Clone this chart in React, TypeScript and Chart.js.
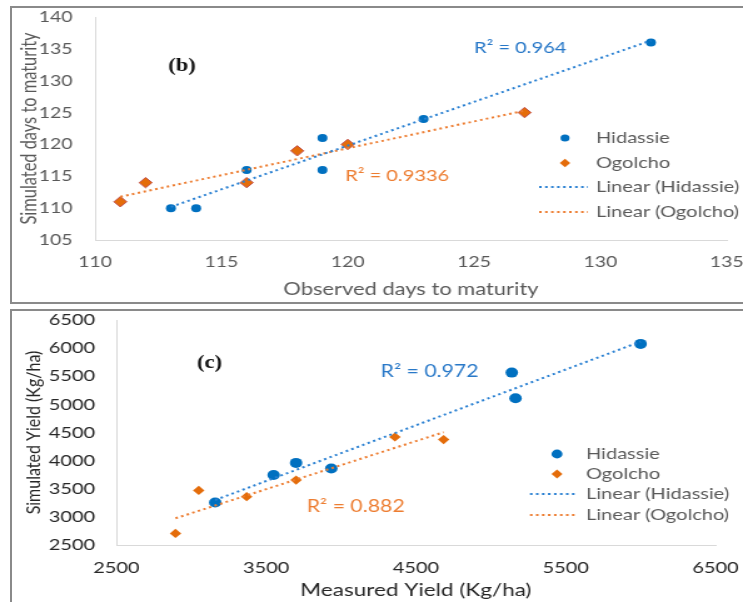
import React, { useEffect, useRef } from 'react';
import { Chart, registerables } from 'chart.js';

Chart.register(...registerables);

// ---------------- shared ----------------
const seriesNames = ['Hidassie', 'Ogolcho', 'Linear (Hidassie)', 'Linear (Ogolcho)'];

// ---------------- panel (b): days to maturity ----------------
const daysTicksX = [110, 115, 120, 125, 130, 135];
const daysTicksY = [105, 110, 115, 120, 125, 130, 135, 140];
const daysHidassieObserved = [113, 114, 116, 119, 119, 123, 132];
const daysHidassieSimulated = [110, 110, 116, 121, 116, 124, 136];
const daysOgolchoObserved = [111, 112, 116, 118, 120, 127];
const daysOgolchoSimulated = [111, 114, 114, 119, 120, 125];
const daysTrendHidassieX = [113, 132];
const daysTrendHidassieY = [110.2, 136.3];
const daysTrendOgolchoX = [111, 127];
const daysTrendOgolchoY = [111.8, 125.3];
const daysR2 = ['R² = 0.964', 'R² = 0.9336'];
const daysTitles = ['Observed days to maturity', 'Simulated days to maturity'];

// ---------------- panel (c): yield ----------------
const yieldTicksX = [2500, 3500, 4500, 5500, 6500];
const yieldTicksY = [2500, 3000, 3500, 4000, 4500, 5000, 5500, 6000, 6500];
const yieldHidassieMeasured = [3160, 3550, 3700, 3935, 5140, 5165, 6000];
const yieldHidassieSimulated = [3255, 3745, 3960, 3860, 5565, 5110, 6075];
const yieldOgolchoMeasured = [2895, 3050, 3370, 3700, 4360, 4685];
const yieldOgolchoSimulated = [2705, 3470, 3360, 3655, 4420, 4375];
const yieldTrendHidassieX = [3160, 6000];
const yieldTrendHidassieY = [3300, 6115];
const yieldTrendOgolchoX = [2895, 4685];
const yieldTrendOgolchoY = [2975, 4505];
const yieldR2 = ['R² = 0.972', 'R² = 0.882'];
const yieldTitles = ['Measured Yield (Kg/ha)', 'Simulated Yield (Kg/ha)'];

const panelLetters = ['(b)', '(c)'];

// ---------------- styles ----------------
const CANVAS_W = 594; // drawn narrower, then stretched to 743px like the reference
const PAGE_W = 743;
const BLUE = '#0070C0';
const ORANGE = '#E46C0A';
const TREND_BLUE = '#2A80D2';
const TREND_ORANGE = '#ED7D31';
const R2_BLUE = '#2878C8';
const R2_ORANGE = '#ED7D31';
const FONT = 'Lato, "Open Sans", sans-serif';
const DASH = [2, 2.8];

type Panel = {
  top: number;
  height: number;
  xTicks: number[];
  yTicks: number[];
  hx: number[]; hy: number[];
  ox: number[]; oy: number[];
  thx: number[]; thy: number[];
  tox: number[]; toy: number[];
  titles: string[];
  r2: string[];
  letter: string;
  letterAt: number[];
  r2At: number[][];
  padRight: number; padTop: number;
  yAxisW: number; xAxisH: number;
  yTickPad: number; xTickPad: number;
  yTitlePad: number; xTitlePad: number;
  xTitleSize: number; yTitleSize: number;
  tickSize: number; tickColor: string;
  titleColor: string;
  r2Size: number;
  hRadius: number; oRadius: number; oBorder: string; oBorderW: number;
  legend: { markerX: number; textX: number; lineX0: number; lineX1: number; rows: number[]; circleR: number; diamondR: number };
};

const panelB: Panel = {
  top: 0, height: 305,
  xTicks: daysTicksX, yTicks: daysTicksY,
  hx: daysHidassieObserved, hy: daysHidassieSimulated,
  ox: daysOgolchoObserved, oy: daysOgolchoSimulated,
  thx: daysTrendHidassieX, thy: daysTrendHidassieY,
  tox: daysTrendOgolchoX, toy: daysTrendOgolchoY,
  titles: daysTitles, r2: daysR2, letter: panelLetters[0],
  letterAt: [112.9, 132.2],
  r2At: [[125.0, 135.1], [119.9, 115.0]],
  padRight: 13, padTop: 17, yAxisW: 76, xAxisH: 65,
  yTickPad: 18, xTickPad: 13, yTitlePad: 14, xTitlePad: 5,
  xTitleSize: 17.5, yTitleSize: 16.4,
  tickSize: 15.5, tickColor: '#595959', titleColor: '#595959', r2Size: 16,
  hRadius: 4, oRadius: 5.2, oBorder: '#C0504D', oBorderW: 1,
  legend: { markerX: 451.7, textX: 476.5, lineX0: 431, lineX1: 470, rows: [138, 163, 187, 212], circleR: 3.6, diamondR: 4.2 },
};

const panelC: Panel = {
  top: 305, height: 297,
  xTicks: yieldTicksX, yTicks: yieldTicksY,
  hx: yieldHidassieMeasured, hy: yieldHidassieSimulated,
  ox: yieldOgolchoMeasured, oy: yieldOgolchoSimulated,
  thx: yieldTrendHidassieX, thy: yieldTrendHidassieY,
  tox: yieldTrendOgolchoX, toy: yieldTrendOgolchoY,
  titles: yieldTitles, r2: yieldR2, letter: panelLetters[1],
  letterAt: [3039, 5736],
  r2At: [[4264, 5593], [3771, 3176]],
  padRight: 22, padTop: 15, yAxisW: 93, xAxisH: 57,
  yTickPad: 17, xTickPad: 13, yTitlePad: 17, xTitlePad: 1,
  xTitleSize: 18, yTitleSize: 16,
  tickSize: 16, tickColor: '#262626', titleColor: '#262626', r2Size: 17,
  hRadius: 5, oRadius: 4.6, oBorder: ORANGE, oBorderW: 0,
  legend: { markerX: 445.3, textX: 468.5, lineX0: 423.7, lineX1: 462, rows: [149, 169, 189, 210], circleR: 4.4, diamondR: 4.4 },
};

function makeOverlay(p: Panel) {
  return {
    id: 'overlay',
    afterDatasetsDraw(chart: any) {
      const { ctx } = chart;
      const xs = chart.scales.x;
      const ys = chart.scales.y;
      ctx.save();
      ctx.textAlign = 'left';
      ctx.textBaseline = 'middle';
      // panel letter
      ctx.font = `bold 18px "Liberation Serif", "Times New Roman", serif`;
      ctx.fillStyle = '#111111';
      ctx.fillText(p.letter, xs.getPixelForValue(p.letterAt[0]), ys.getPixelForValue(p.letterAt[1]));
      // R² notes
      ctx.font = `${p.r2Size}px ${FONT}`;
      ctx.fillStyle = R2_BLUE;
      ctx.fillText(p.r2[0], xs.getPixelForValue(p.r2At[0][0]), ys.getPixelForValue(p.r2At[0][1]));
      ctx.fillStyle = R2_ORANGE;
      ctx.fillText(p.r2[1], xs.getPixelForValue(p.r2At[1][0]), ys.getPixelForValue(p.r2At[1][1]));
      // legend
      const L = p.legend;
      ctx.font = `16px ${FONT}`;
      seriesNames.forEach((name, i) => {
        const y = L.rows[i];
        if (i === 0) {
          ctx.beginPath();
          ctx.arc(L.markerX, y, L.circleR, 0, Math.PI * 2);
          ctx.fillStyle = BLUE;
          ctx.fill();
        } else if (i === 1) {
          const r = L.diamondR;
          ctx.beginPath();
          ctx.moveTo(L.markerX - r, y);
          ctx.lineTo(L.markerX, y - r);
          ctx.lineTo(L.markerX + r, y);
          ctx.lineTo(L.markerX, y + r);
          ctx.closePath();
          ctx.fillStyle = ORANGE;
          ctx.fill();
        } else {
          ctx.save();
          ctx.beginPath();
          ctx.setLineDash(DASH);
          ctx.lineWidth = 2;
          ctx.strokeStyle = i === 2 ? TREND_BLUE : TREND_ORANGE;
          ctx.moveTo(L.lineX0, y);
          ctx.lineTo(L.lineX1, y);
          ctx.stroke();
          ctx.restore();
        }
        ctx.fillStyle = '#595959';
        ctx.fillText(name, L.textX, y);
      });
      ctx.restore();
    },
  };
}

function buildConfig(p: Panel): any {
  const pts = (xs: number[], ys: number[]) => xs.map((x, i) => ({ x, y: ys[i] }));
  const tickFont = { family: FONT, size: p.tickSize };
  return {
    type: 'scatter',
    data: {
      datasets: [
        {
          label: seriesNames[2], data: pts(p.thx, p.thy), showLine: true, pointRadius: 0,
          borderColor: TREND_BLUE, borderWidth: 2, borderDash: DASH, fill: false, order: 0,
        },
        {
          label: seriesNames[3], data: pts(p.tox, p.toy), showLine: true, pointRadius: 0,
          borderColor: TREND_ORANGE, borderWidth: 2, borderDash: DASH, fill: false, order: 0,
        },
        {
          label: seriesNames[0], data: pts(p.hx, p.hy), pointStyle: 'circle', pointRadius: p.hRadius,
          backgroundColor: BLUE, borderColor: BLUE, borderWidth: 0, order: 1,
        },
        {
          label: seriesNames[1], data: pts(p.ox, p.oy), pointStyle: 'rectRot', pointRadius: p.oRadius,
          backgroundColor: ORANGE, borderColor: p.oBorder, borderWidth: p.oBorderW, order: 1,
        },
      ],
    },
    options: {
      responsive: false,
      animation: false,
      devicePixelRatio: 1,
      events: [],
      layout: { padding: { left: 0, right: p.padRight, top: p.padTop, bottom: 0 } },
      plugins: { legend: { display: false }, tooltip: { enabled: false } },
      scales: {
        x: {
          type: 'linear', position: 'bottom',
          min: p.xTicks[0], max: p.xTicks[p.xTicks.length - 1],
          grid: { display: false, drawTicks: false },
          border: { display: true, color: '#d9d9d9', width: 1 },
          ticks: {
            stepSize: p.xTicks[1] - p.xTicks[0], padding: p.xTickPad, font: tickFont, color: p.tickColor,
            maxRotation: 0, autoSkip: false, callback: (v: number) => String(v),
          },
          title: { display: true, text: p.titles[0], font: { family: FONT, size: p.xTitleSize }, color: p.titleColor, padding: { top: 0, bottom: p.xTitlePad } },
          afterFit: (s: any) => { s.height = p.xAxisH; s.paddingLeft = 0; s.paddingRight = 0; },
        },
        y: {
          type: 'linear', position: 'left',
          min: p.yTicks[0], max: p.yTicks[p.yTicks.length - 1],
          grid: { display: false, drawTicks: false },
          border: { display: true, color: '#d9d9d9', width: 1 },
          ticks: {
            stepSize: p.yTicks[1] - p.yTicks[0], padding: p.yTickPad, font: tickFont, color: p.tickColor,
            autoSkip: false, callback: (v: number) => String(v),
          },
          title: { display: true, text: p.titles[1], font: { family: FONT, size: p.yTitleSize }, color: p.titleColor, padding: { top: p.yTitlePad, bottom: 0 } },
          afterFit: (s: any) => { s.width = p.yAxisW; s.paddingTop = 0; s.paddingBottom = 0; },
        },
      },
    },
    plugins: [makeOverlay(p)],
  };
}

function PanelChart({ panel }: { panel: Panel }) {
  const ref = useRef<HTMLCanvasElement | null>(null);
  useEffect(() => {
    if (!ref.current) return;
    const chart = new Chart(ref.current, buildConfig(panel));
    return () => chart.destroy();
  }, [panel]);
  return (
    <canvas
      ref={ref}
      width={CANVAS_W}
      height={panel.height}
      style={{ position: 'absolute', left: 0, top: panel.top, width: PAGE_W, height: panel.height, display: 'block' }}
    />
  );
}

export default function App() {
  return (
    <div style={{ position: 'fixed', left: 0, top: 0, width: PAGE_W, height: 602, overflow: 'hidden', background: '#ffffff' }}>
      <PanelChart panel={panelB} />
      <PanelChart panel={panelC} />
      <div style={{ position: 'absolute', left: 10, top: 6, width: 800, height: 298, border: '2px solid #8a8a8a', boxSizing: 'border-box', pointerEvents: 'none' }} />
      <div style={{ position: 'absolute', left: 10, top: 309, width: 800, height: 400, border: '2px solid #8a8a8a', boxSizing: 'border-box', pointerEvents: 'none' }} />
    </div>
  );
}
